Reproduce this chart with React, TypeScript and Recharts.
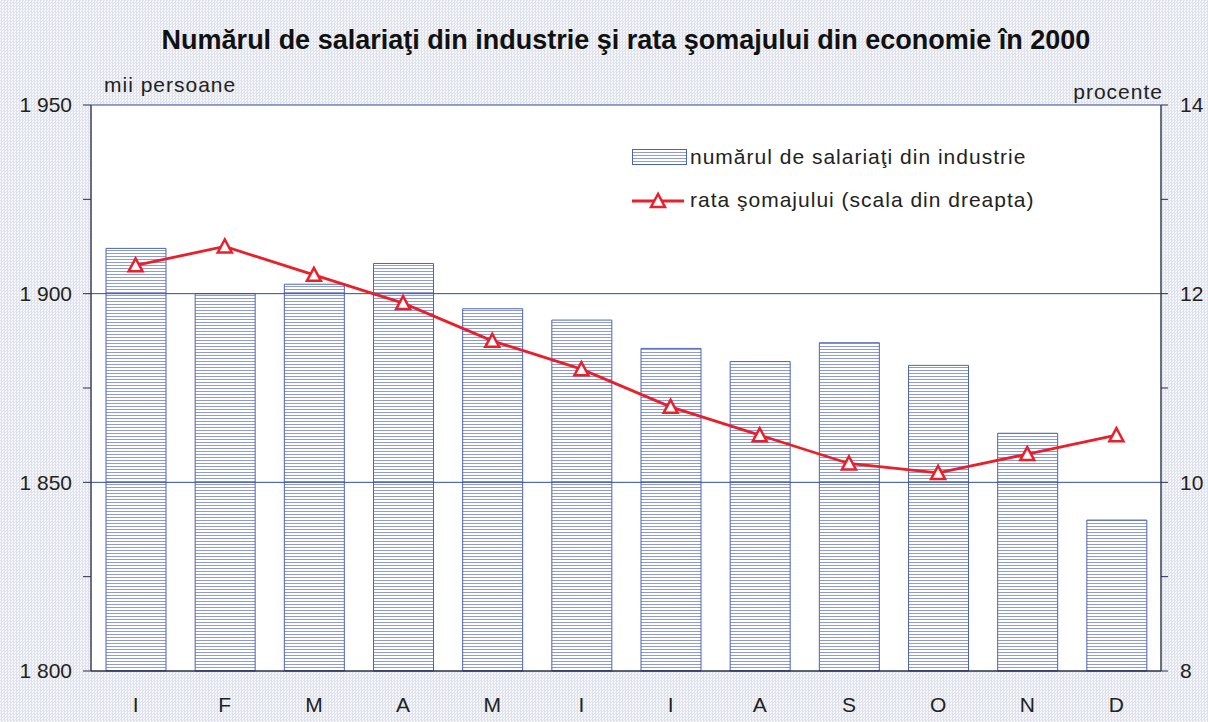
import { Bar, CartesianGrid, ComposedChart, Line, ReferenceLine, XAxis, YAxis } from 'recharts';

const months = ['I', 'F', 'M', 'A', 'M', 'I', 'I', 'A', 'S', 'O', 'N', 'D'];
// mii persoane
const employees = [1912, 1900, 1902.5, 1908, 1896, 1893, 1885.5, 1882, 1887, 1881, 1863, 1840];
// procente
const unemployment = [12.3, 12.5, 12.2, 11.9, 11.5, 11.2, 10.8, 10.5, 10.2, 10.1, 10.3, 10.5];
const leftTicks = [1800, 1825, 1850, 1875, 1900, 1925, 1950];
const rightTicks = [8, 9, 10, 11, 12, 13, 14];
const gridValues = [1850, 1900, 1950];

const data = months.map((m, i) => ({ month: m, employees: employees[i], rate: unemployment[i] }));

const FONT = '"Liberation Sans", Arial, Helvetica, sans-serif';
const RED = '#e8202a';
const BLUE = '#2e4c9e';

const leftLabel = (v: number) => (v % 50 === 0 ? `${Math.floor(v / 1000)} ${String(v % 1000).padStart(3, '0')}` : '');
const rightLabel = (v: number) => (v % 2 === 0 ? String(v) : '');

function Triangle({ cx, cy }: { cx?: number; cy?: number }) {
  if (cx == null || cy == null) return null;
  return (
    <polygon
      points={`${cx},${cy - 7} ${cx - 7},${cy + 6} ${cx + 7},${cy + 6}`}
      fill="#fff"
      stroke={RED}
      strokeWidth={2.5}
    />
  );
}

export default function App() {
  return (
    <div
      style={{
        position: 'absolute',
        top: 0,
        left: 0,
        width: 1208,
        height: 722,
        fontFamily: FONT,
        background: 'repeating-conic-gradient(#dfe2ea 0% 25%, #f6f7fa 0% 50%) 0 0 / 3px 3px',
      }}
    >
      <div style={{ position: 'absolute', top: 25, left: 0, width: 1252, textAlign: 'center', fontSize: 27, fontWeight: 'bold', color: '#111' }}>
        Numărul de salariaţi din industrie şi rata şomajului din economie în 2000
      </div>
      <div style={{ position: 'absolute', top: 73, left: 104, fontSize: 21, color: '#222', letterSpacing: 1 }}>mii persoane</div>
      <div style={{ position: 'absolute', top: 80, right: 45, fontSize: 21, color: '#222', letterSpacing: 1 }}>procente</div>

      <ComposedChart width={1208} height={722} data={data} margin={{ top: 105, right: 0, bottom: 0, left: 0 }}>
        <defs>
          <pattern id="hatch" width="6" height="3" patternUnits="userSpaceOnUse">
            <rect width="6" height="3" fill="#fff" />
            <rect y="1" width="6" height="1" fill="#8e9bd6" />
          </pattern>
        </defs>
        <CartesianGrid fill="#ffffff" horizontal={false} vertical={false} />
        <XAxis
          dataKey="month"
          height={51}
          axisLine={{ stroke: '#2a2f45', strokeWidth: 1.5 }}
          tickLine={false}
          tickSize={0}
          tickMargin={26}
          tick={{ fontSize: 21, fill: '#222', fontFamily: FONT }}
        />
        <YAxis
          yAxisId="left"
          domain={[1800, 1950]}
          ticks={leftTicks}
          width={91}
          interval={0}
          tickFormatter={leftLabel}
          axisLine={{ stroke: '#3a3f58', strokeWidth: 1.5 }}
          tickLine={{ stroke: '#2a2f45' }}
          tickSize={8}
          tickMargin={11}
          tick={{ fontSize: 21, fill: '#222', fontFamily: FONT }}
        />
        <YAxis
          yAxisId="right"
          orientation="right"
          domain={[8, 14]}
          ticks={rightTicks}
          width={47}
          interval={0}
          tickFormatter={rightLabel}
          axisLine={{ stroke: '#3a3f58', strokeWidth: 1.5 }}
          tickLine={{ stroke: '#2a2f45' }}
          tickSize={7}
          tickMargin={12}
          tick={{ fontSize: 21, fill: '#222', fontFamily: FONT }}
        />
        {gridValues.map((v) => (
          <ReferenceLine key={v} yAxisId="left" y={v} stroke={BLUE} strokeWidth={1} />
        ))}
        <Bar
          yAxisId="left"
          dataKey="employees"
          barSize={60}
          fill="url(#hatch)"
          stroke="#4d64b6"
          strokeWidth={1}
          isAnimationActive={false}
        />
        <Line
          yAxisId="right"
          dataKey="rate"
          stroke={RED}
          strokeWidth={2.8}
          dot={<Triangle />}
          activeDot={false}
          isAnimationActive={false}
        />
      </ComposedChart>

      <div style={{ position: 'absolute', top: 143, left: 632, fontSize: 21, color: '#222', letterSpacing: 1 }}>
        <div style={{ display: 'flex', alignItems: 'center', height: 28 }}>
          <svg width={56} height={18} style={{ marginRight: 2 }}>
            <defs>
              <pattern id="hatchLegend" width="6" height="3" patternUnits="userSpaceOnUse">
                <rect width="6" height="3" fill="#fff" />
                <rect y="1" width="6" height="1" fill="#8e9bd6" />
              </pattern>
            </defs>
            <rect x={0.5} y={1.5} width={54} height={15} fill="url(#hatchLegend)" stroke="#4d64b6" />
          </svg>
          <span>numărul de salariaţi din industrie</span>
        </div>
        <div style={{ display: 'flex', alignItems: 'center', height: 28, marginTop: 15 }}>
          <svg width={56} height={18} style={{ marginRight: 2 }}>
            <line x1={0} y1={10} x2={52} y2={10} stroke={RED} strokeWidth={2.8} />
            <polygon points="26,3 19,16 33,16" fill="#fff" stroke={RED} strokeWidth={2.5} />
          </svg>
          <span>rata şomajului (scala din dreapta)</span>
        </div>
      </div>
    </div>
  );
}
